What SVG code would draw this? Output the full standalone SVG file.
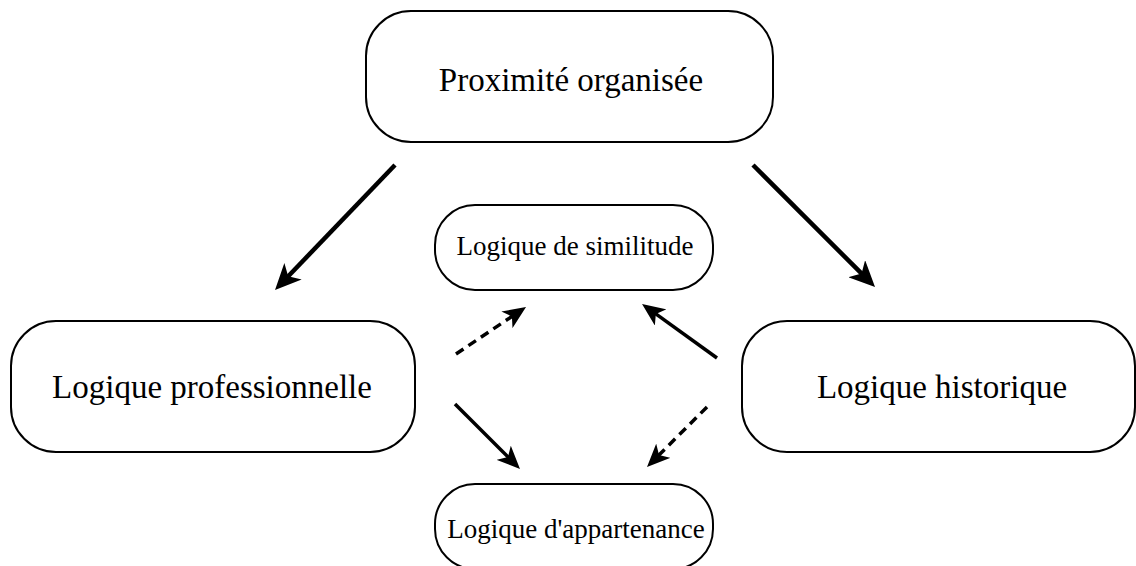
<svg xmlns="http://www.w3.org/2000/svg" width="1136" height="566" viewBox="0 0 1136 566">
<style>
.box{fill:#fff;stroke:#000;stroke-width:2}
.big{font-family:"Liberation Serif","DejaVu Serif",serif;font-size:33px;fill:#000;text-anchor:middle}
.small{font-family:"Liberation Serif","DejaVu Serif",serif;font-size:27px;fill:#000;text-anchor:middle}
.thick{stroke:#000;stroke-width:4.5;fill:none;marker-end:url(#headBig)}
.thin{stroke:#000;stroke-width:3.5;fill:none;marker-end:url(#headSmall)}
.dash{stroke-dasharray:9,6}
</style>
<defs>
<marker id="headBig" markerUnits="userSpaceOnUse" markerWidth="26" markerHeight="24" refX="10" refY="12" orient="auto">
<path d="M26,12 L0,0 L7,12 L0,24 Z" fill="#000"/>
</marker>
<marker id="headSmall" markerUnits="userSpaceOnUse" markerWidth="23" markerHeight="20" refX="9" refY="10" orient="auto">
<path d="M23,10 L0,0 L6,10 L0,20 Z" fill="#000"/>
</marker>
</defs>
<rect width="1136" height="566" fill="#fff"/>
<g id="connectors">
<line class="thick" x1="395" y1="165" x2="286.1" y2="278.5"/>
<line class="thick" x1="753" y1="165" x2="863.7" y2="275.7"/>
<line class="thin dash" x1="456" y1="354" x2="514.4" y2="314.8"/>
<line class="thin" x1="717" y1="358" x2="653.4" y2="312.2"/>
<line class="thin" x1="455" y1="404" x2="510.1" y2="459.1"/>
<line class="thin dash" x1="707" y1="407" x2="656.9" y2="457.1"/>
</g>
<g id="proximite">
<rect class="box" x="366" y="11" width="407" height="131" rx="45" ry="45"/>
<text class="big" x="571" y="91">Proximité organisée</text>
</g>
<g id="professionnelle">
<rect class="box" x="11" y="321" width="404" height="131" rx="45" ry="45"/>
<text class="big" x="212" y="398">Logique professionnelle</text>
</g>
<g id="historique">
<rect class="box" x="742" y="321" width="393" height="131" rx="45" ry="45"/>
<text class="big" x="942" y="398">Logique historique</text>
</g>
<g id="similitude">
<rect class="box" x="435" y="205" width="278" height="85" rx="40" ry="40"/>
<text class="small" x="575" y="255">Logique de similitude</text>
</g>
<g id="appartenance">
<rect class="box" x="435" y="484" width="278" height="85" rx="40" ry="40"/>
<text class="small" x="576" y="538">Logique d'appartenance</text>
</g>
</svg>
